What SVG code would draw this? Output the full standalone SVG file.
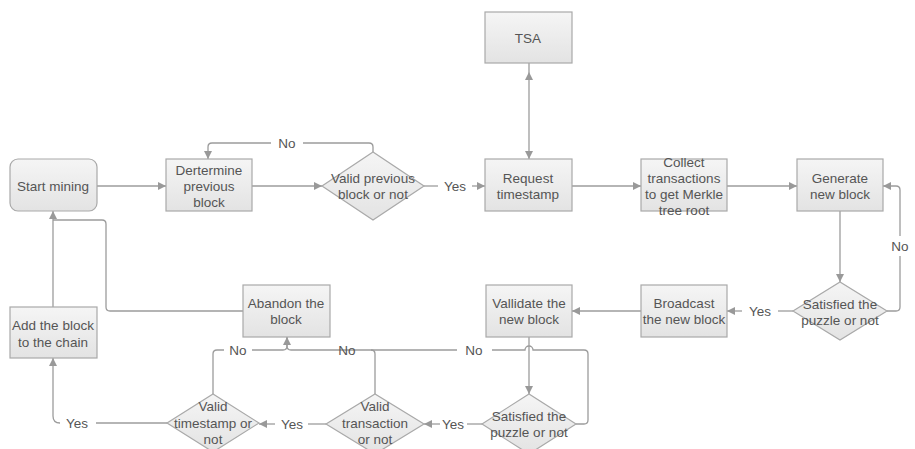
<svg xmlns="http://www.w3.org/2000/svg" width="915" height="449" viewBox="0 0 915 449">
<defs>
<linearGradient id="g" x1="0" y1="0" x2="0" y2="1"><stop offset="0" stop-color="#f5f5f5"/><stop offset="1" stop-color="#e3e3e3"/></linearGradient>
<marker id="ah" markerUnits="userSpaceOnUse" markerWidth="10" markerHeight="10" refX="8" refY="4" orient="auto"><path d="M0,0 L8,4 L0,8 z" fill="#999"/></marker>
<marker id="as" markerUnits="userSpaceOnUse" markerWidth="10" markerHeight="10" refX="0" refY="4" orient="auto"><path d="M8,0 L0,4 L8,8 z" fill="#999"/></marker>
</defs>
<style>
.n{fill:url(#g);stroke:#a9a9a9;stroke-width:1.2}
.c{fill:none;stroke:#9c9c9c;stroke-width:1.3}
.a{marker-end:url(#ah)}
text{font-family:"Liberation Sans",Arial,sans-serif;font-size:13.5px;fill:#555;text-anchor:middle}
</style>
<rect width="915" height="449" fill="#fff"/>
<g id="connectors">
<path class="c a" d="M97,186 H166"/>
<path class="c a" d="M252,186 H322"/>
<path class="c" d="M373,152 V147 Q373,143 369,143 H303"/>
<path class="c a" d="M271,143 H212 Q208,143 208,147 V159"/>
<path class="c" d="M424,186 H438"/>
<path class="c a" d="M472,186 H485"/>
<path class="c a" d="M529,72 V159" marker-start="url(#as)"/>
<path class="c" d="M529,63 V72"/>
<path class="c a" d="M572,186 H641"/>
<path class="c a" d="M727,186 H797"/>
<path class="c a" d="M840,211 V282"/>
<path class="c" d="M887,311 H896 Q900,311 900,307 V256"/>
<path class="c a" d="M900,236 V190 Q900,186 896,186 H883"/>
<path class="c" d="M793,311 H778"/>
<path class="c a" d="M742,311 H727"/>
<path class="c a" d="M641,311 H572"/>
<path class="c a" d="M529,337 V394"/>
<path class="c" d="M576,424 H584 Q588,424 588,420 V354 Q588,350 584,350 H533 A4,4 0 0 0 525,350 H492"/>
<path class="c" d="M457,350 H291 Q287,350 287,346 V337"/>
<path class="c a" d="M287,346 V337"/>
<path class="c" d="M375,394 V354 Q375,350 371,350"/>
<path class="c" d="M213,394 V354 Q213,350 217,350 H224"/>
<path class="c" d="M252,350 H283 Q287,350 287,346"/>
<path class="c" d="M482,424 H467"/>
<path class="c a" d="M440,424 H424"/>
<path class="c" d="M326,424 H308"/>
<path class="c a" d="M275,424 H259"/>
<path class="c" d="M167,423 H96"/>
<path class="c a" d="M60,423 Q53,423 53,416 V358"/>
<path class="c a" d="M53,307 V211"/>
<path class="c" d="M243,311 H110 Q106,311 106,307 V224 Q106,220 102,220 H53"/>
</g>
<g id="start"><rect class="n" x="10" y="159" width="87" height="52" rx="8"/><text x="53" y="191">Start mining</text></g>
<g id="determine"><rect class="n" x="166" y="159" width="86" height="52"/><text x="209" y="175">Dertermine</text><text x="209" y="191">previous</text><text x="209" y="207">block</text></g>
<g id="validprev"><polygon class="n" points="322,186 373,152 424,186 373,220"/><text x="373" y="183">Valid previous</text><text x="373" y="199">block or not</text></g>
<text x="287" y="148">No</text>
<text x="455" y="191">Yes</text>
<g id="request"><rect class="n" x="485" y="159" width="87" height="52"/><text x="528" y="183">Request</text><text x="528" y="199">timestamp</text></g>
<g id="tsa"><rect class="n" x="485" y="12" width="87" height="51"/><text x="528" y="43">TSA</text></g>
<g id="collect"><rect class="n" x="641" y="159" width="86" height="52"/><text x="684" y="167">Collect</text><text x="684" y="183">transactions</text><text x="684" y="199">to get Merkle</text><text x="684" y="215">tree root</text></g>
<g id="generate"><rect class="n" x="797" y="159" width="86" height="52"/><text x="840" y="183">Generate</text><text x="840" y="199">new block</text></g>
<g id="satisfied1"><polygon class="n" points="793,311 840,282 887,311 840,340"/><text x="840" y="309">Satisfied the</text><text x="840" y="325">puzzle or not</text></g>
<text x="900" y="251">No</text>
<text x="760" y="316">Yes</text>
<g id="broadcast"><rect class="n" x="641" y="285" width="86" height="52"/><text x="684" y="308">Broadcast</text><text x="684" y="324">the new block</text></g>
<g id="validate"><rect class="n" x="486" y="285" width="86" height="52"/><text x="529" y="308">Vallidate the</text><text x="529" y="324">new block</text></g>
<g id="satisfied2"><polygon class="n" points="482,424 529,394 576,424 529,454"/><text x="529" y="421">Satisfied the</text><text x="529" y="437">puzzle or not</text></g>
<text x="474" y="355">No</text>
<text x="347" y="355">No</text>
<text x="238" y="355">No</text>
<g id="validtx"><polygon class="n" points="326,424 375,394 424,424 375,454"/><text x="375" y="411">Valid</text><text x="375" y="428">transaction</text><text x="375" y="444">or not</text></g>
<text x="453" y="429">Yes</text>
<g id="validts"><polygon class="n" points="167,423 213,394 259,423 213,452"/><text x="213" y="411">Valid</text><text x="213" y="428">timestamp or</text><text x="213" y="444">not</text></g>
<text x="292" y="429">Yes</text>
<text x="77" y="428">Yes</text>
<g id="abandon"><rect class="n" x="243" y="285" width="87" height="52"/><text x="286" y="308">Abandon the</text><text x="286" y="324">block</text></g>
<g id="addblock"><rect class="n" x="10" y="307" width="87" height="51"/><text x="53" y="330">Add the block</text><text x="53" y="347">to the chain</text></g>
</svg>
